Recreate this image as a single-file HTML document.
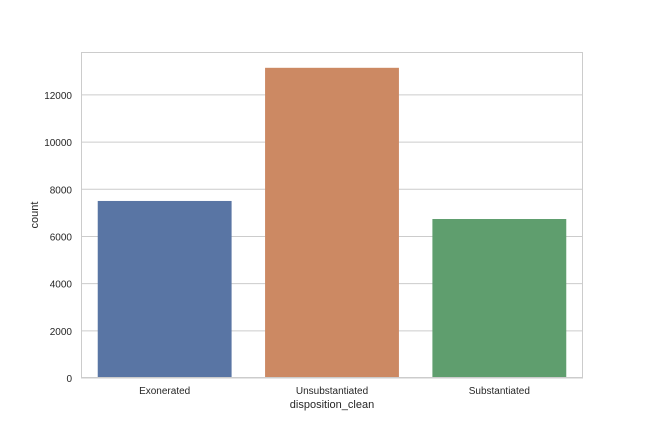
<!DOCTYPE html>
<html><head><meta charset="utf-8"><style>
body{margin:0;background:#fff;font-family:"Liberation Sans",Arial,sans-serif;}
svg text{font-family:"Liberation Sans",Arial,sans-serif;fill:#262626;}
</style></head><body>
<svg id="chart" width="648" height="432"></svg>
<script>
const categories = ["Exonerated","Unsubstantiated","Substantiated"];
const counts = [7505, 13150, 6740];
const yTicks = [0,2000,4000,6000,8000,10000,12000];
const colors = ["#5975a4","#cc8963","#5f9e6e"];
const L=81,R=583,T=52,B=378,yMax=13820;
const svg=document.getElementById('chart');
const NS="http://www.w3.org/2000/svg";
function y(v){return B-(v/yMax)*(B-T);}
const bw=(R-L)/categories.length;
function x(i){return L+bw*i;}
function el(t,a){const e=document.createElementNS(NS,t);for(const k in a)e.setAttribute(k,a[k]);svg.appendChild(e);return e;}
yTicks.forEach(t=>{
  const g=el('line',{x1:L,x2:R,y1:y(t),y2:y(t),stroke:'#cccccc','stroke-width':1});
  
  
  const tx=el('text',{x:L-9,y:y(t)+4,'text-anchor':'end','font-size':10});
  tx.textContent=t;
  
  
});
categories.forEach((c,i)=>{
  const r=el('rect',{x:x(i)+bw*0.1,y:y(counts[i]),width:bw*0.8,height:B-y(counts[i]),fill:colors[i]});
  
  
  const tx=el('text',{x:x(i)+bw/2,y:B+16,'text-anchor':'middle','font-size':10});
  tx.textContent=c;
  
  
});
const fr=el('rect',{x:L+0.5,y:T+0.5,width:R-L-1,height:B-T-1,fill:'none',stroke:'#cccccc','stroke-width':1});


const xt=el('text',{x:(L+R)/2,y:408,'text-anchor':'middle','font-size':11});
xt.textContent='disposition_clean';


const yt=el('text',{x:38,y:(T+B)/2,'text-anchor':'middle','font-size':11,transform:`rotate(-90 38 ${(T+B)/2})`});
yt.textContent='count';


</script>
</body></html>
